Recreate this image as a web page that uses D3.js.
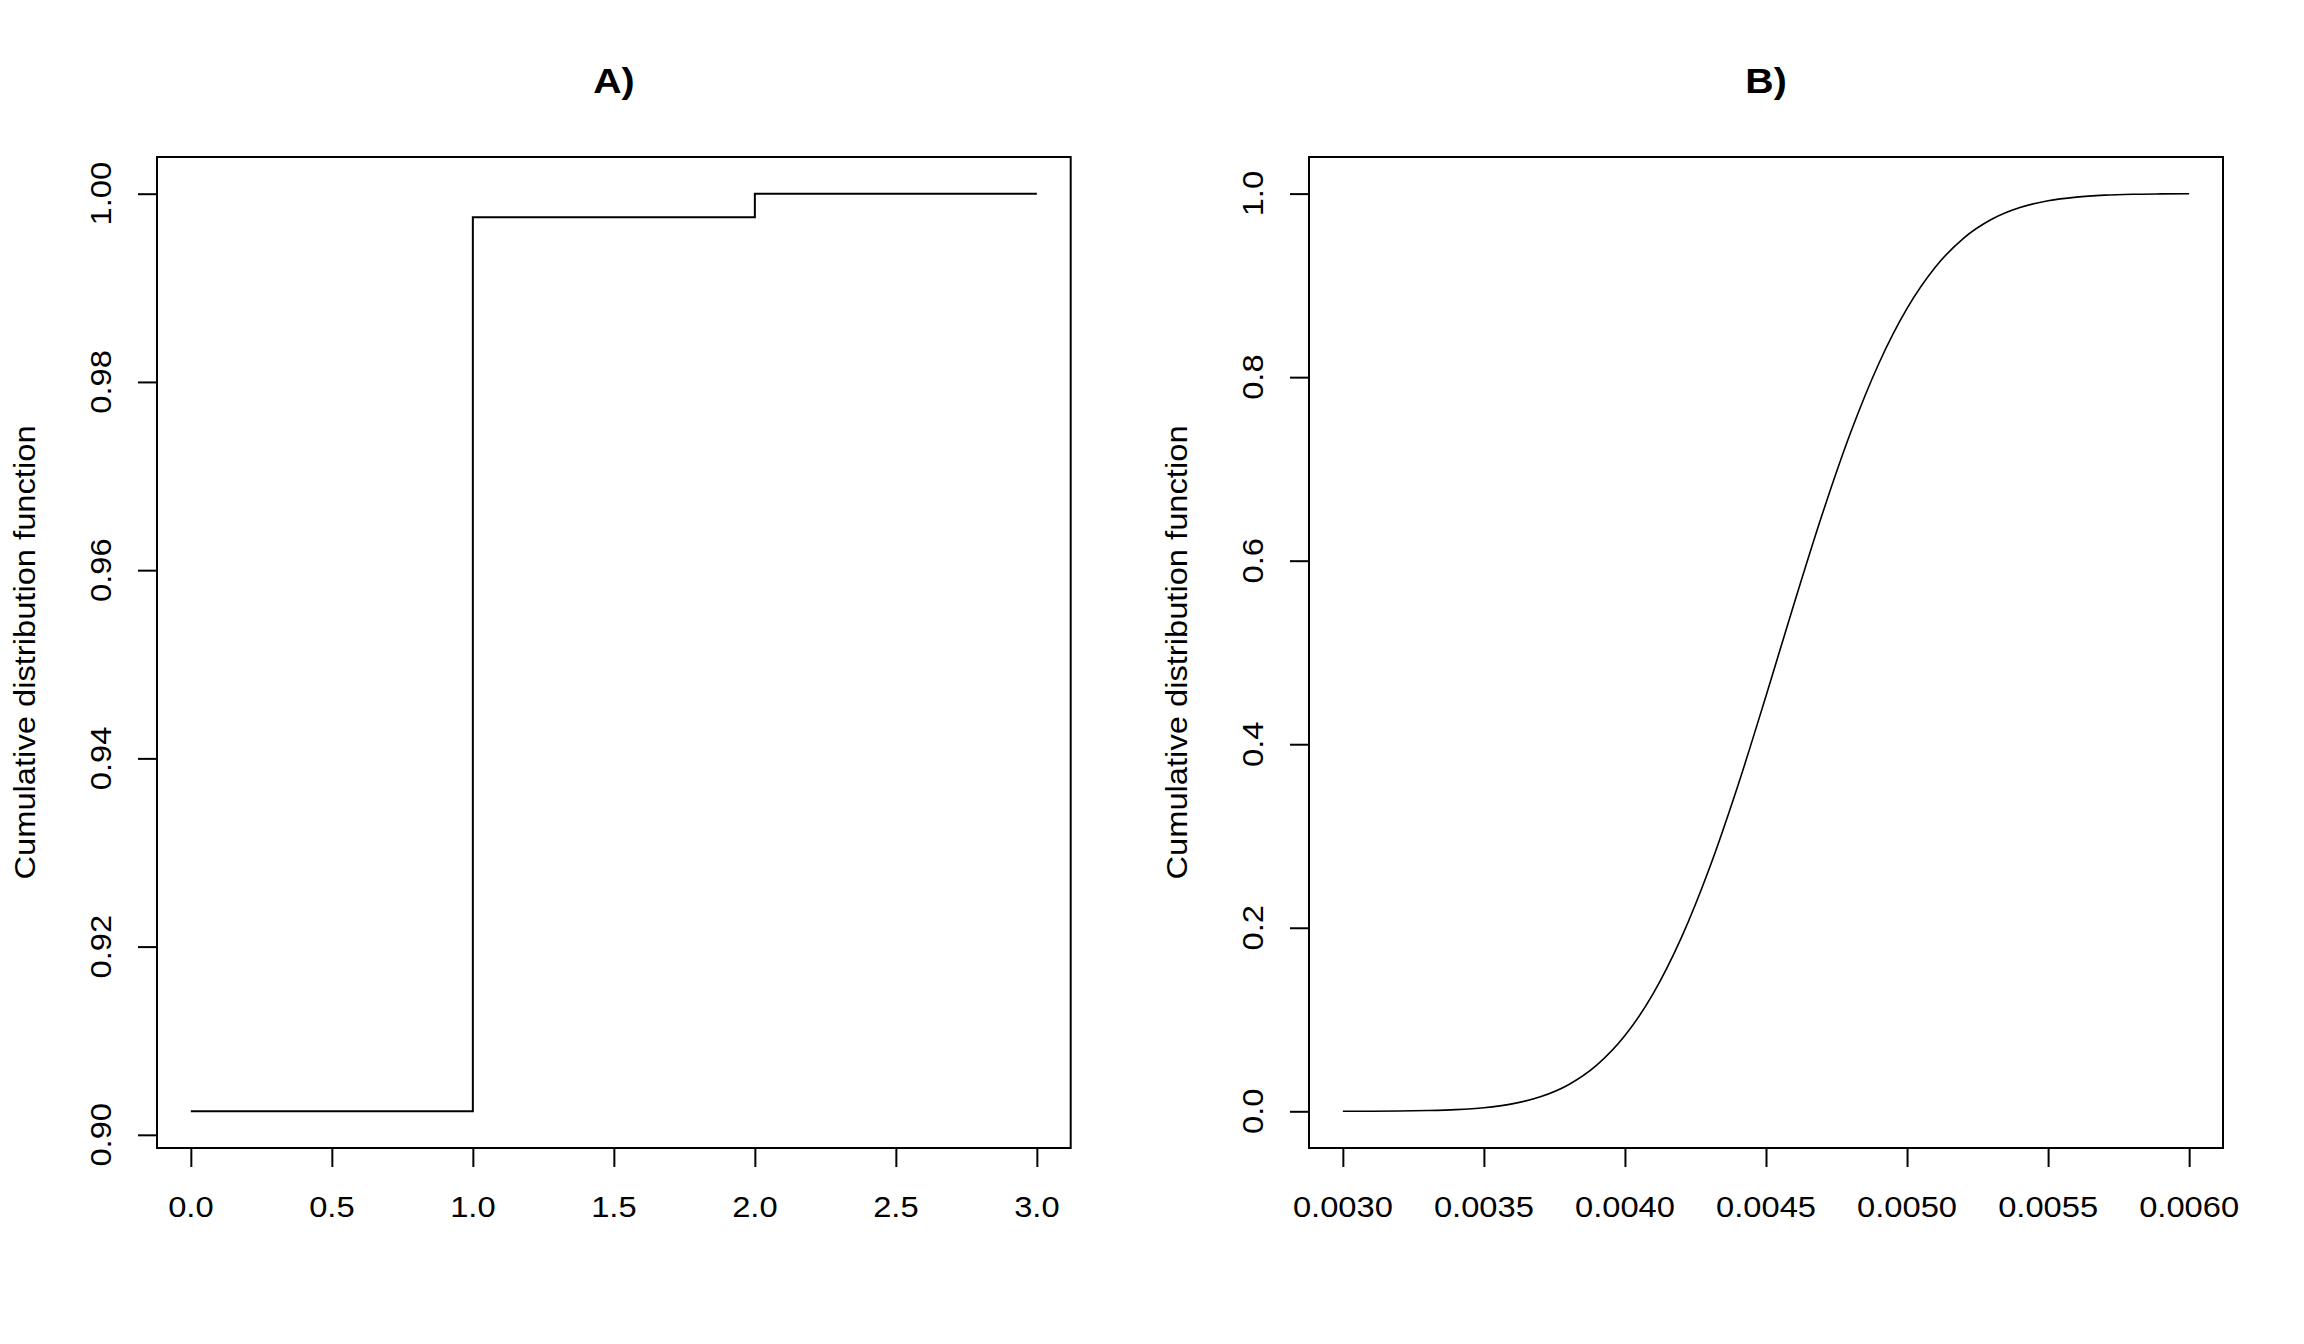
<!DOCTYPE html>
<html>
<head>
<meta charset="utf-8">
<script src="https://cdn.jsdelivr.net/npm/d3@7"></script>
<style>
  html, body { margin: 0; padding: 0; background: #fff; }
  svg { display: block; font-family: "Liberation Sans", Arial, sans-serif; }
</style>
</head>
<body>
<svg id="chart" width="2304" height="1344"></svg>
<script>
// ---- Data ----
const panelTitles = ["A)", "B)"];
const yAxisLabel = "Cumulative distribution function";

// Panel A: step CDF
const stepX = [0, 1, 2, 3];
const stepY = [0.9025, 0.9975, 1.0, 1.0];
const ticksAX = [0, 0.5, 1, 1.5, 2, 2.5, 3];
const ticksAY = [0.90, 0.92, 0.94, 0.96, 0.98, 1.00];

// Panel B: continuous CDF
const cdfX = [0.0030, 0.0031, 0.0032, 0.0033, 0.0034, 0.0035, 0.0036, 0.0037, 0.0038, 0.0039,
              0.0040, 0.0041, 0.0042, 0.0043, 0.0044, 0.0045, 0.0046, 0.0047, 0.0048, 0.0049,
              0.0050, 0.0051, 0.0052, 0.0053, 0.0054, 0.0055, 0.0056, 0.0057, 0.0058, 0.0059, 0.0060];
const cdfY = [0.0000, 0.0001, 0.0003, 0.0008, 0.0018, 0.0039, 0.0081, 0.0158, 0.0290, 0.0503,
              0.0825, 0.1282, 0.1892, 0.2654, 0.3545, 0.4526, 0.5536, 0.6511, 0.7396, 0.8149,
              0.8749, 0.9198, 0.9513, 0.9720, 0.9848, 0.9922, 0.9962, 0.9983, 0.9993, 0.9997, 0.9999];
const ticksBX = [0.0030, 0.0035, 0.0040, 0.0045, 0.0050, 0.0055, 0.0060];
const ticksBY = [0.0, 0.2, 0.4, 0.6, 0.8, 1.0];

// ---- Layout ----
const svg = d3.select("#chart");
const plotTop = 157, plotBottom = 1148;
const panels = [
  { left: 157, right: 1070.7, title: panelTitles[0], xs: stepX, ys: stepY, tx: ticksAX, ty: ticksAY,
    fx: d3.format(".1f"), fy: d3.format(".2f"), curve: d3.curveStepAfter, lw: 2 },
  { left: 1309, right: 2223, title: panelTitles[1], xs: cdfX, ys: cdfY, tx: ticksBX, ty: ticksBY,
    fx: d3.format(".4f"), fy: d3.format(".1f"), curve: d3.curveMonotoneX, lw: 1.6 }
];

const fontSize = 30;
const stretch = 1.09;

function ext(arr) {
  const [a, b] = d3.extent(arr);
  const d = (b - a) * 0.04;
  return [a - d, b + d];
}

panels.forEach(p => {
  const x = d3.scaleLinear().domain(ext(p.xs)).range([p.left, p.right]);
  const y = d3.scaleLinear().domain(ext(p.ys)).range([plotBottom, plotTop]);
  const g = svg.append("g");

  // box
  g.append("rect")
    .attr("x", p.left).attr("y", plotTop)
    .attr("width", p.right - p.left).attr("height", plotBottom - plotTop)
    .attr("fill", "none").attr("stroke", "#000").attr("stroke-width", 2);

  // x axis
  const ax = d3.axisBottom(x).tickValues(p.tx).tickSize(19).tickFormat("");
  const gx = g.append("g").attr("transform", `translate(0,${plotBottom})`).call(ax);
  gx.select(".domain").remove();
  gx.selectAll(".tick line").attr("stroke", "#000").attr("stroke-width", 2);
  g.selectAll(".xlab").data(p.tx).enter().append("text")
    .attr("transform", d => `translate(${x(d)},1217) scale(${stretch},1)`)
    .attr("text-anchor", "middle")
    .attr("font-size", fontSize)
    .text(p.fx);

  // y axis
  const ay = d3.axisLeft(y).tickValues(p.ty).tickSize(19).tickFormat("");
  const gy = g.append("g").attr("transform", `translate(${p.left},0)`).call(ay);
  gy.select(".domain").remove();
  gy.selectAll(".tick line").attr("stroke", "#000").attr("stroke-width", 2);
  g.selectAll(".ylab").data(p.ty).enter().append("text")
    .attr("transform", d => `translate(${p.left - 46.5},${y(d)}) rotate(-90) scale(${stretch},1)`)
    .attr("text-anchor", "middle")
    .attr("font-size", fontSize)
    .text(p.fy);

  // y label
  g.append("text")
    .attr("transform", `translate(${p.left - 122},${(plotTop + plotBottom) / 2}) rotate(-90) scale(${stretch},1)`)
    .attr("text-anchor", "middle")
    .attr("font-size", fontSize)
    .text(yAxisLabel);

  // title
  g.append("text")
    .attr("transform", `translate(${(p.left + p.right) / 2},92.7) scale(${stretch},1)`)
    .attr("text-anchor", "middle")
    .attr("font-size", 36).attr("font-weight", "bold")
    .text(p.title);

  // line
  const line = d3.line().x((d, i) => x(p.xs[i])).y((d, i) => y(p.ys[i])).curve(p.curve);
  g.append("path").datum(p.xs)
    .attr("d", line)
    .attr("fill", "none").attr("stroke", "#000").attr("stroke-width", p.lw);
});
</script>
</body>
</html>
